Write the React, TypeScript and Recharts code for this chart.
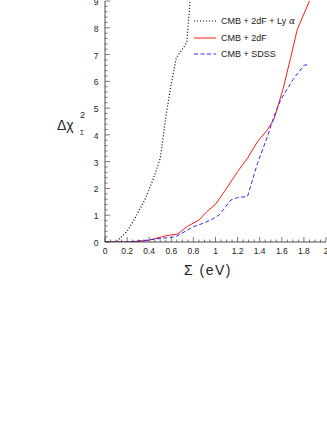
import { LineChart, Line, XAxis, YAxis } from "recharts";

// plot frame (px) used by the tick renderers
const W = 327;
const H = 440;
const LEFT = 105;
const TOP = 1;
const RIGHT = 326;
const BOTTOM = 242;

const xMajor = [0, 0.2, 0.4, 0.6, 0.8, 1, 1.2, 1.4, 1.6, 1.8, 2];
const xLabels = ["0", "0.2", "0.4", "0.6", "0.8", "1", "1.2", "1.4", "1.6", "1.8", "2"];
const xMinor = Array.from({ length: 41 }, (_, i) => +(i * 0.05).toFixed(2));
const yMinor = Array.from({ length: 46 }, (_, i) => +(i * 0.2).toFixed(1));

// CMB + 2dF + Ly alpha
const lyaX = [0, 0.1, 0.2, 0.27, 0.36, 0.44, 0.5, 0.545, 0.59, 0.645, 0.7, 0.74, 0.77];
const lyaY = [0, 0, 0.4, 0.88, 1.57, 2.38, 3.13, 4.5, 5.69, 6.88, 7.2, 7.45, 9];

// CMB + 2dF
const tdfX = [0, 0.2, 0.38, 0.56, 0.66, 0.74, 0.85, 0.92, 1.0, 1.08, 1.2, 1.29, 1.38, 1.47, 1.53, 1.61, 1.68, 1.74, 1.85];
const tdfY = [0, 0, 0.05, 0.24, 0.3, 0.57, 0.82, 1.13, 1.41, 1.88, 2.63, 3.13, 3.75, 4.19, 4.6, 5.69, 6.88, 7.94, 9];

// CMB + SDSS
const sdssX = [0, 0.2, 0.38, 0.64, 0.8, 0.89, 0.97, 1.03, 1.14, 1.2, 1.29, 1.38, 1.47, 1.53, 1.59, 1.7, 1.8, 1.85];
const sdssY = [0, 0, 0.07, 0.2, 0.57, 0.7, 0.85, 1.0, 1.57, 1.66, 1.7, 2.94, 3.94, 4.69, 5.31, 6.06, 6.6, 6.63];

const toPts = (xs: number[], ys: number[]) => xs.map((x, i) => ({ x, y: ys[i] }));

const series = [
  { name: "CMB + 2dF + Ly", greek: "α", data: toPts(lyaX, lyaY), color: "#000", dash: "1 2", width: 1.2 },
  { name: "CMB + 2dF", greek: "", data: toPts(tdfX, tdfY), color: "#ff1a1a", dash: undefined, width: 1 },
  { name: "CMB + SDSS", greek: "", data: toPts(sdssX, sdssY), color: "#2b2bff", dash: "4 2.5", width: 1 },
];

const isMajor = (v: number, step: number) => Math.abs(v / step - Math.round(v / step)) < 1e-6;
const FONT = "'Liberation Sans', Arial, sans-serif";
const INK = "#222";

const BottomTick = ({ payload }: any) => {
  const v = payload.value;
  const c = payload.coordinate;
  const major = isMajor(v, 0.2);
  const idx = xMajor.findIndex((m) => Math.abs(m - v) < 1e-6);
  return (
    <g>
      <line x1={c} x2={c} y1={BOTTOM} y2={BOTTOM - (major ? 5 : 2.5)} stroke={INK} strokeWidth={0.6} />
      {idx >= 0 && (
        <text x={c} y={BOTTOM + 11.5} textAnchor="middle" fontSize={8.5} fill={INK} fontFamily={FONT}>
          {xLabels[idx]}
        </text>
      )}
    </g>
  );
};

const TopTick = ({ payload }: any) => {
  const c = payload.coordinate;
  const major = isMajor(payload.value, 0.2);
  return <line x1={c} x2={c} y1={TOP} y2={TOP + (major ? 5 : 2.5)} stroke={INK} strokeWidth={0.6} />;
};

const LeftTick = ({ payload }: any) => {
  const v = payload.value;
  const c = payload.coordinate;
  const major = isMajor(v, 1);
  return (
    <g>
      <line x1={LEFT} x2={LEFT + (major ? 5 : 2.5)} y1={c} y2={c} stroke={INK} strokeWidth={0.6} />
      {major && (
        <text x={98.5} y={c + 4} textAnchor="end" fontSize={8.5} fill={INK} fontFamily={FONT}>
          {v}
        </text>
      )}
    </g>
  );
};

const RightTick = ({ payload }: any) => {
  const c = payload.coordinate;
  const major = isMajor(payload.value, 1);
  return <line x1={RIGHT} x2={RIGHT - (major ? 5 : 2.5)} y1={c} y2={c} stroke={INK} strokeWidth={0.6} />;
};

const LegendBox = () => (
  <div style={{ position: "absolute", left: 193, top: 13, fontFamily: FONT, fontSize: 9, color: INK }}>
    {series.map((s) => (
      <div key={s.name} style={{ display: "flex", alignItems: "center", height: 16.5 }}>
        <svg width={24} height={6} style={{ marginRight: 4 }}>
          <line x1={1} x2={23} y1={3} y2={3} stroke={s.color} strokeWidth={s.width} strokeDasharray={s.dash} />
        </svg>
        <span>
          {s.name}
          {s.greek && <span style={{ fontFamily: "'DejaVu Serif', serif", fontStyle: "italic" }}> {s.greek}</span>}
        </span>
      </div>
    ))}
  </div>
);

export default function App() {
  return (
    <div style={{ position: "absolute", left: 0, top: 0, width: W, height: H, background: "#fff" }}>
      <LineChart width={W} height={H} margin={{ top: TOP, right: W - RIGHT, left: 0, bottom: 168 }}>
        <XAxis
          xAxisId="b"
          type="number"
          dataKey="x"
          domain={[0, 2]}
          ticks={xMinor}
          interval={0}
          height={30}
          tickLine={false}
          tick={<BottomTick />}
          axisLine={{ stroke: INK, strokeWidth: 0.8 }}
          allowDataOverflow
        />
        <XAxis
          xAxisId="t"
          orientation="top"
          type="number"
          dataKey="x"
          domain={[0, 2]}
          ticks={xMinor}
          interval={0}
          height={0}
          tickLine={false}
          tick={<TopTick />}
          axisLine={{ stroke: INK, strokeWidth: 0.8 }}
        />
        <YAxis
          yAxisId="l"
          type="number"
          domain={[0, 9]}
          ticks={yMinor}
          interval={0}
          width={LEFT}
          tickLine={false}
          tick={<LeftTick />}
          axisLine={{ stroke: INK, strokeWidth: 0.8 }}
          allowDataOverflow
        />
        <YAxis
          yAxisId="r"
          orientation="right"
          type="number"
          domain={[0, 9]}
          ticks={yMinor}
          interval={0}
          width={0}
          tickLine={false}
          tick={<RightTick />}
          axisLine={{ stroke: INK, strokeWidth: 0.8 }}
        />
        {series.map((s) => (
          <Line
            key={s.name}
            xAxisId="b"
            yAxisId="l"
            data={s.data}
            dataKey="y"
            type="linear"
            stroke={s.color}
            strokeWidth={s.width}
            strokeDasharray={s.dash}
            dot={false}
            isAnimationActive={false}
          />
        ))}
      </LineChart>
      <LegendBox />
      <div
        style={{
          position: "absolute",
          left: 158,
          width: 100,
          top: 263,
          textAlign: "center",
          fontFamily: FONT,
          fontSize: 14,
          letterSpacing: 1.5,
          color: INK,
          lineHeight: 1,
        }}
      >
        Σ (eV)
      </div>
      <div style={{ position: "absolute", left: 57, top: 117.5, fontFamily: FONT, fontSize: 14, color: INK, lineHeight: 1 }}>
        Δχ
      </div>
      <div style={{ position: "absolute", left: 80, top: 111, fontFamily: FONT, fontSize: 9, color: INK, lineHeight: 1 }}>
        2
      </div>
      <div style={{ position: "absolute", left: 80, top: 130, fontFamily: FONT, fontSize: 6.5, color: INK, lineHeight: 1 }}>
        Σ
      </div>
    </div>
  );
}
